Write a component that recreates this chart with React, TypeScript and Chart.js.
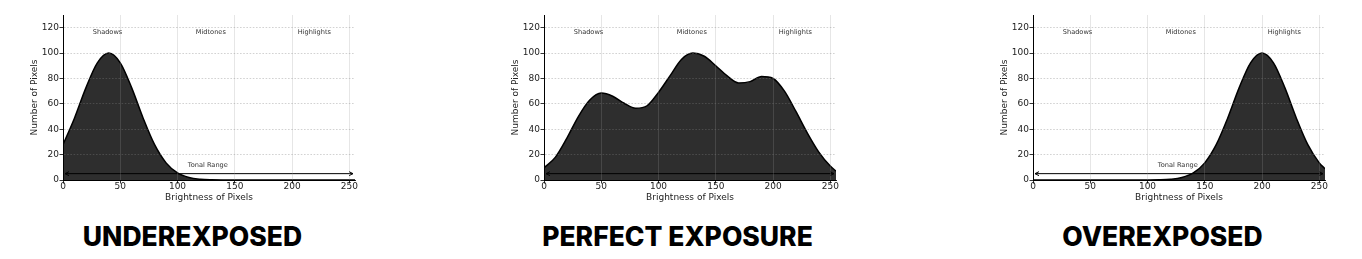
import React, { useEffect, useRef } from 'react';
import { Chart, registerables } from 'chart.js';

Chart.register(...registerables);
Chart.defaults.font.family = '"DejaVu Sans", sans-serif';

// ---------- data ----------
const BRIGHTNESS = [0, 10, 20, 30, 40, 50, 60, 70, 80, 90, 100, 110, 120, 130, 140, 150, 160, 170, 180, 190, 200, 210, 220, 230, 240, 250, 255];
const UNDEREXPOSED = [27.8, 48.7, 72.6, 92.3, 100, 92.3, 72.6, 48.7, 27.8, 13.5, 5.6, 2.0, 0.6, 0.15, 0.03, 0, 0, 0, 0, 0, 0, 0, 0, 0, 0, 0, 0];
const PERFECT = [9.5, 18, 33, 50, 63, 68.5, 66, 60.5, 56.5, 58.5, 69, 82, 95, 100, 97.5, 90, 82, 76.5, 77.5, 81.5, 80, 70, 54, 37, 22, 11, 7];
const OVEREXPOSED = [0, 0, 0, 0, 0, 0, 0, 0, 0, 0, 0.03, 0.15, 0.6, 2.0, 5.6, 13.5, 27.8, 48.7, 72.6, 92.3, 100, 92.3, 72.6, 48.7, 27.8, 13.5, 8.9];

const PANEL_TITLES = ['UNDEREXPOSED', 'PERFECT EXPOSURE', 'OVEREXPOSED'];
const X_TICKS = [0, 50, 100, 150, 200, 250];
const Y_TICKS = [0, 20, 40, 60, 80, 100, 120];
const X_MAX = 255;
const Y_MAX = 130;
const X_TITLE = 'Brightness of Pixels';
const Y_TITLE = 'Number of Pixels';

const ZONE_LABELS = ['Shadows', 'Midtones', 'Highlights'];
const ZONE_X = [26, 116, 205];
const ZONE_Y = 116;
const TONAL_LABEL = 'Tonal Range';
const TONAL_LABEL_X = 109;
const TONAL_LABEL_Y = 11.5;
const ARROW_FROM = 0;
const ARROW_TO = 255;
const ARROW_Y = 5;

// ---------- layout ----------
const PANEL_LEFTS = [0, 481, 970];
const CANVAS_W = 370;
const CANVAS_H = 210;
const PLOT_LEFT = 63;
const PLOT_TOP = 15;
const PLOT_BOTTOM = 180;
const PLOT_W = 292;
const TITLE_CENTERS = [192.5, 677.5, 1162.5];

const annotPlugin = {
  id: 'histAnnot',
  beforeDatasetsDraw(chart: any) {
    const { ctx, scales } = chart;
    const x = scales.x;
    const y = scales.y;
    ctx.save();
    ctx.font = '6.6px "DejaVu Sans"';
    ctx.fillStyle = '#333';
    ctx.textAlign = 'left';
    ctx.textBaseline = 'middle';
    ctx.fillText(TONAL_LABEL, x.getPixelForValue(TONAL_LABEL_X), y.getPixelForValue(TONAL_LABEL_Y));
    ctx.restore();
  },
  afterDatasetsDraw(chart: any) {
    const { ctx, scales } = chart;
    const x = scales.x;
    const y = scales.y;
    ctx.save();
    ctx.font = '6.6px "DejaVu Sans"';
    ctx.fillStyle = '#333';
    ctx.textAlign = 'left';
    ctx.textBaseline = 'middle';
    ZONE_LABELS.forEach((t, i) => {
      ctx.fillText(t, x.getPixelForValue(ZONE_X[i]), y.getPixelForValue(ZONE_Y));
    });
    // double-headed arrow
    const x0 = x.getPixelForValue(ARROW_FROM) + 2;
    const x1 = x.getPixelForValue(ARROW_TO) - 2;
    const ya = y.getPixelForValue(ARROW_Y);
    ctx.strokeStyle = '#000';
    ctx.lineWidth = 1;
    ctx.beginPath();
    ctx.moveTo(x0, ya);
    ctx.lineTo(x1, ya);
    ctx.moveTo(x0 + 4, ya - 2);
    ctx.lineTo(x0, ya);
    ctx.lineTo(x0 + 4, ya + 2);
    ctx.moveTo(x1 - 4, ya - 2);
    ctx.lineTo(x1, ya);
    ctx.lineTo(x1 - 4, ya + 2);
    ctx.stroke();
    ctx.restore();
  },
};

function Histogram({ values }: { values: number[] }) {
  const ref = useRef<HTMLCanvasElement | null>(null);
  useEffect(() => {
    if (!ref.current) return;
    const chart = new Chart(ref.current, {
      type: 'line',
      data: {
        datasets: [
          {
            data: BRIGHTNESS.map((b, i) => ({ x: b, y: values[i] })),
            borderColor: '#000',
            borderWidth: 1.5,
            backgroundColor: '#2e2e2e',
            fill: 'origin',
            pointRadius: 0,
            cubicInterpolationMode: 'monotone',
          },
        ],
      },
      options: {
        animation: false,
        responsive: false,
        maintainAspectRatio: false,
        layout: { padding: { left: 0, top: PLOT_TOP, right: CANVAS_W - PLOT_LEFT - PLOT_W, bottom: 0 } },
        plugins: { legend: { display: false }, tooltip: { enabled: false } },
        scales: {
          x: {
            type: 'linear',
            min: 0,
            max: X_MAX,
            afterBuildTicks: (s: any) => {
              s.ticks = X_TICKS.map((v) => ({ value: v }));
            },
            afterFit: (s: any) => {
              s.height = CANVAS_H - PLOT_BOTTOM;
            },
            ticks: { color: '#222', font: { size: 9 }, padding: -2, maxRotation: 0, autoSkip: false },
            grid: { z: 1, color: 'rgba(150,150,150,0.3)', lineWidth: 0.8, tickColor: '#000', tickLength: 3.5, tickWidth: 0.8 },
            border: { display: true, z: 2, color: '#000', width: 1 },
            title: { display: true, text: X_TITLE, color: '#222', font: { size: 9 }, padding: { top: 0, bottom: 6.6 } },
          },
          y: {
            type: 'linear',
            min: 0,
            max: Y_MAX,
            afterBuildTicks: (s: any) => {
              s.ticks = Y_TICKS.map((v) => ({ value: v }));
            },
            afterFit: (s: any) => {
              s.width = PLOT_LEFT;
            },
            ticks: { color: '#222', font: { size: 9 }, padding: 0.5 },
            grid: { z: 1, color: 'rgba(130,130,130,0.45)', lineWidth: 0.8, tickColor: '#000', tickLength: 3.5, tickWidth: 0.8 },
            border: { display: true, z: 2, color: '#000', width: 1, dash: [1.6, 1.6] },
            title: { display: true, text: Y_TITLE, color: '#222', font: { size: 9 }, padding: { top: 29.6, bottom: 0 } },
          },
        },
      },
      plugins: [annotPlugin],
    } as any);
    return () => chart.destroy();
  }, [values]);
  return <canvas ref={ref} width={CANVAS_W} height={CANVAS_H} style={{ width: CANVAS_W, height: CANVAS_H, display: 'block' }} />;
}

const SERIES = [UNDEREXPOSED, PERFECT, OVEREXPOSED];

export default function App() {
  return (
    <div style={{ position: 'fixed', left: 0, top: 0, width: 1362, height: 259, background: '#fff', overflow: 'hidden' }}>
      {SERIES.map((s, i) => (
        <div key={i} style={{ position: 'absolute', left: PANEL_LEFTS[i], top: 0 }}>
          <Histogram values={s} />
        </div>
      ))}
      {PANEL_TITLES.map((t, i) => (
        <div
          key={t}
          style={{
            position: 'absolute',
            left: TITLE_CENTERS[i] - 200,
            width: 400,
            top: 222.5,
            textAlign: 'center',
            fontFamily: 'Inter, sans-serif',
            fontWeight: 800,
            fontSize: 26.5,
            lineHeight: 1,
            color: '#000',
            whiteSpace: 'nowrap',
          }}
        >
          {t}
        </div>
      ))}
    </div>
  );
}
